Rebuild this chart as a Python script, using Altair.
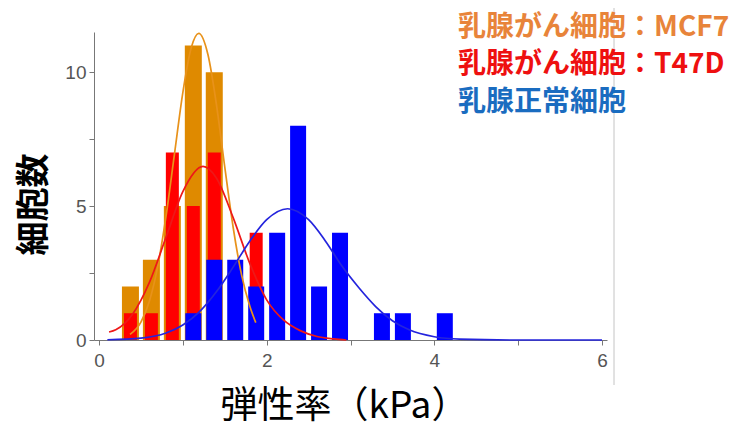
import altair as alt
import pandas as pd

# ---- data ----
bin_centers = [0.375, 0.625, 0.875, 1.125, 1.375, 1.625, 1.875, 2.125,
               2.375, 2.625, 2.875, 3.125, 3.375, 3.625, 3.875, 4.125]
mcf7_counts = [2, 3, 5, 11, 10, 0, 0, 0, 0, 0, 0, 0, 0, 0, 0, 0]
t47d_counts = [1, 1, 7, 5, 7, 0, 4, 0, 0, 0, 0, 0, 0, 0, 0, 0]
normal_counts = [0, 0, 0, 1, 3, 3, 2, 4, 8, 2, 4, 0, 1, 1, 0, 1]

mcf7_curve_x = [0.37, 0.5, 0.6, 0.7, 0.8, 0.9, 1.0, 1.1, 1.19, 1.3, 1.4, 1.5, 1.6, 1.7, 1.8, 1.87]
mcf7_curve_y = [0.21, 0.67, 1.44, 2.74, 4.63, 6.94, 9.24, 10.91, 11.45, 10.65, 8.81, 6.46, 4.21, 2.44, 1.25, 0.65]

t47d_curve_x = [0.12, 0.2, 0.4, 0.6, 0.8, 1.0, 1.24, 1.4, 1.6, 1.8, 2.0, 2.2, 2.4, 2.6, 2.8, 2.95]
t47d_curve_y = [0.3, 0.38, 0.96, 2.14, 3.84, 5.54, 6.48, 6.05, 4.57, 2.85, 1.5, 0.75, 0.35, 0.13, 0.04, 0.0]

normal_curve_x = [0.1, 0.5, 0.8, 1.0, 1.2, 1.4, 1.6, 1.8, 2.0, 2.25, 2.5, 2.7, 2.9, 3.1, 3.3,
                  3.5, 3.7, 4.0, 4.3, 5.0, 6.0]
normal_curve_y = [0.01, 0.07, 0.26, 0.56, 1.06, 1.8, 2.72, 3.7, 4.49, 4.9, 4.49, 3.7, 2.75, 1.95,
                  1.25, 0.72, 0.38, 0.12, 0.03, 0.0, 0.0]

legend_labels = ["乳腺がん細胞：MCF7", "乳腺がん細胞：T47D", "乳腺正常細胞"]
legend_colors = ["#E8843A", "#EE1010", "#1A6CC0"]

x_ticks = [0, 1, 2, 3, 4, 5, 6]
y_ticks = [0, 2.5, 5, 7.5, 10]

# ---- styling ----
bar_colors = ["#DF8A00", "#FF0000", "#0000FF"]
curve_colors = ["#E8921A", "#EE1818", "#2424DD"]
bar_sizes = [17, 13, 16]

W, H = 513, 308

x_scale = alt.Scale(domain=[0, 6], nice=False, zero=False)
y_scale = alt.Scale(domain=[0, 11.5], nice=False)

x_axis = alt.Axis(values=x_ticks, format="d",
                  labelExpr="datum.value % 2 === 0 ? datum.label : ''",
                  grid=False, domainColor="#777777", tickColor="#777777", tickSize=5,
                  labelColor="#555555", labelFontSize=19, labelFont="Liberation Sans",
                  labelPadding=6, title="弾性率（kPa）", titleFont="Noto Sans CJK JP",
                  titleFontSize=37, titleFontWeight="normal", titleColor="#000000",
                  titleX=250, titleY=66, titleAlign="center", titleBaseline="middle")
y_axis = alt.Axis(values=y_ticks, labelExpr="datum.value % 5 === 0 ? datum.label : ''",
                  grid=False, domainColor="#777777", tickColor="#777777", tickSize=5,
                  labelColor="#555555", labelFontSize=19, labelFont="Liberation Sans",
                  labelPadding=3, title="細胞数", titleFont="Noto Sans CJK JP",
                  titleFontSize=34, titleFontWeight="bold", titleColor="#000000",
                  titleAngle=270, titleX=-60, titleY=172, titleAlign="center",
                  titleBaseline="middle")

count_lists = [mcf7_counts, t47d_counts, normal_counts]
curve_lists = [(mcf7_curve_x, mcf7_curve_y), (t47d_curve_x, t47d_curve_y),
               (normal_curve_x, normal_curve_y)]

layers = []
for i, counts in enumerate(count_lists):
    df = pd.DataFrame({"x": bin_centers, "n": counts})
    df = df[df["n"] > 0]
    if i == 0:
        enc = dict(x=alt.X("x:Q", scale=x_scale, axis=x_axis),
                   y=alt.Y("n:Q", scale=y_scale, axis=y_axis))
    else:
        enc = dict(x=alt.X("x:Q", scale=x_scale), y=alt.Y("n:Q", scale=y_scale))
    layers.append(alt.Chart(df).mark_bar(size=bar_sizes[i], color=bar_colors[i]).encode(**enc))

for i, (cx, cy) in enumerate(curve_lists):
    df = pd.DataFrame({"x": cx, "y": cy})
    layers.append(alt.Chart(df).mark_line(color=curve_colors[i], strokeWidth=1.7,
                                          interpolate="monotone", clip=False).encode(
        x=alt.X("x:Q", scale=x_scale), y=alt.Y("y:Q", scale=y_scale)))

# right frame line
layers.append(alt.Chart(pd.DataFrame({"a": [0]})).mark_rule(color="#C4C4C4", strokeWidth=1).encode(
    x=alt.value(W + 7), y=alt.value(-32), y2=alt.value(H + 45)))

# legend texts
legend_y = [-4, 33, 71]
for lab, col, yy in zip(legend_labels, legend_colors, legend_y):
    layers.append(alt.Chart(pd.DataFrame({"a": [0]})).mark_text(
        text=lab, color=col, font="Noto Sans CJK JP", fontSize=28, fontWeight="bold",
        align="left", baseline="middle").encode(x=alt.value(364), y=alt.value(yy)))

chart = alt.layer(*layers).properties(
    width=W, height=H,
    autosize=alt.AutoSizeParams(type="none"),
    padding={"left": 86, "top": 24, "right": 133, "bottom": 88},
).configure_view(strokeWidth=0)

chart.save("out.html", embed_options={"renderer": "svg", "actions": False})
